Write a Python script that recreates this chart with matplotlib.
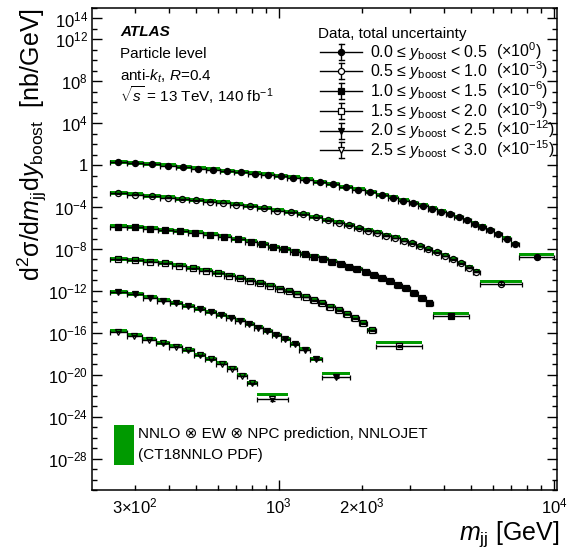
import numpy as np
import matplotlib
matplotlib.use("Agg")
import matplotlib.pyplot as plt
from matplotlib.lines import Line2D
from matplotlib.patches import Rectangle
from matplotlib.ticker import FixedLocator, FixedFormatter, LogLocator, NullFormatter

plt.rcParams['font.family'] = ['Liberation Sans', 'DejaVu Sans']
plt.rcParams['mathtext.fontset'] = 'custom'
plt.rcParams['mathtext.rm'] = 'Liberation Sans'
plt.rcParams['mathtext.it'] = 'Liberation Sans:italic'
plt.rcParams['mathtext.bf'] = 'Liberation Sans:bold'

# ---- datos ----
# bordes de bin en m_jj [GeV] para cada rango de y_boost
edges0 = [244, 281, 323, 370, 423, 481, 544, 613, 690, 774, 865, 965, 1072, 1195, 1333, 1486,
          1660, 1850, 2051, 2262, 2487, 2720, 2962, 3215, 3476, 3749, 4042, 4347, 4656, 4978,
          5315, 5673, 6067, 6486, 6966, 7464, 10000]
edges1 = [244, 281, 323, 371, 421, 474, 532, 594, 663, 743, 833, 936, 1047, 1165, 1293, 1436,
          1581, 1725, 1876, 2032, 2197, 2371, 2556, 2752, 2950, 3162, 3384, 3618, 3879, 4152,
          4439, 4742, 5058, 5382, 7618]
edges2 = [244, 281, 321, 364, 412, 467, 530, 600, 672, 752, 833, 912, 1000, 1096, 1194, 1293,
          1397, 1507, 1623, 1741, 1866, 2000, 2145, 2301, 2462, 2629, 2808, 3008, 3215, 3424,
          3631, 4920]
edges3 = [244, 281, 321, 364, 411, 462, 515, 572, 632, 694, 757, 821, 892, 969, 1049, 1128,
          1210, 1296, 1388, 1488, 1597, 1708, 1826, 1957, 2098, 2259, 3303]
edges4 = [244, 281, 321, 361, 402, 446, 492, 542, 594, 643, 697, 754, 813, 876, 944, 1017,
          1098, 1190, 1297, 1442, 1813]
edges5 = [244, 281, 318, 358, 401, 445, 492, 542, 594, 648, 705, 765, 834, 1081]

# d2sigma/dm dy [nb/GeV] sin escalar
xsec0 = [1.81, 1.45, 1.17, 0.86, 0.64, 0.48, 0.36, 0.27, 0.20, 0.16, 0.12, 0.089, 0.061, 0.039,
         0.024, 0.0144, 8.0e-3, 4.4e-3, 2.5e-3, 1.37e-3, 7.6e-4, 3.9e-4, 2.2e-4, 1.31e-4,
         6.8e-5, 3.5e-5, 2.0e-5, 1.02e-5, 5.3e-6, 2.5e-6, 1.3e-6, 5.9e-7, 2.6e-7, 1.0e-7,
         2.9e-8, 1.7e-9]
xsec1 = [2.0, 1.53, 1.10, 0.79, 0.57, 0.44, 0.34, 0.25, 0.17, 0.117, 0.074, 0.045, 0.031, 0.020,
         0.011, 5.3e-3, 3.1e-3, 1.8e-3, 9.3e-4, 5.6e-4, 3.4e-4, 1.9e-4, 1.13e-4, 5.8e-5, 3.4e-5,
         1.9e-5, 9.7e-6, 4.7e-6, 2.2e-6, 1.0e-6, 4.3e-7, 1.7e-7, 6.6e-8, 4.9e-9]
xsec2 = [1.36, 1.16, 0.84, 0.63, 0.50, 0.34, 0.22, 0.144, 0.087, 0.050, 0.029, 0.015, 9.7e-3,
         5.6e-3, 3.2e-3, 1.8e-3, 1.03e-3, 6.2e-4, 3.7e-4, 2.1e-4, 1.12e-4, 6.4e-5, 3.2e-5,
         1.58e-5, 8.5e-6, 3.8e-6, 1.83e-6, 6.1e-7, 1.95e-7, 7.1e-8, 4.2e-9]
xsec3 = [1.07, 0.86, 0.62, 0.43, 0.26, 0.149, 0.086, 0.050, 0.029, 0.0165, 9.3e-3, 5.3e-3,
         3.0e-3, 1.68e-3, 9.5e-4, 5.2e-4, 2.7e-4, 1.31e-4, 6.4e-5, 3.0e-5, 1.46e-5, 6.1e-6,
         2.35e-6, 7.9e-7, 1.8e-7, 5.7e-9]
xsec4 = [0.71, 0.46, 0.218, 0.113, 0.064, 0.035, 0.017, 8.8e-3, 4.9e-3, 2.7e-3, 1.39e-3, 6.7e-4,
         3.0e-4, 1.45e-4, 6.0e-5, 2.5e-5, 8.3e-6, 2.4e-6, 2.9e-7, 6.3e-9]
xsec5 = [0.124, 0.052, 0.023, 9.7e-3, 4.6e-3, 2.1e-3, 7.4e-4, 2.9e-4, 1.07e-4, 3.6e-5, 7.7e-6,
         1.48e-6, 4.4e-8]

edges = [edges0, edges1, edges2, edges3, edges4, edges5]
xsecs = [xsec0, xsec1, xsec2, xsec3, xsec4, xsec5]
exponentes = [0, -3, -6, -9, -12, -15]
ybins = [("0.0", "0.5"), ("0.5", "1.0"), ("1.0", "1.5"), ("1.5", "2.0"), ("2.0", "2.5"), ("2.5", "3.0")]

# incertidumbre relativa de datos y banda de prediccion (teoria/datos)
unc_rel = 0.08
unc_rel_ancho = 0.3
banda_lo, banda_hi = 0.72, 1.75
banda_ancho_lo = [1.25, 1.05, 1.2, 1.4, 1.5, 2.1]
banda_ancho_hi = [2.6, 2.1, 2.5, 2.8, 3.0, 4.4]

marcadores = ['o', 'o', 's', 's', 'v', 'v']
llenos = [True, False, True, False, True, False]
verde = '#009a00'

W, H = 572, 553
def fx(px):
    return px / W
def fy(py):
    return 1 - py / H

fig = plt.figure(figsize=(W / 100, H / 100), dpi=100)
ax = fig.add_axes([fx(92), fy(490), fx(557) - fx(92), fy(8) - fy(490)])
ax.set_xscale('log')
ax.set_yscale('log')

for k in range(6):
    e = np.array(edges[k], dtype=float)
    v = np.array(xsecs[k]) * 10.0 ** exponentes[k]
    lo, hi = e[:-1], e[1:]
    c = np.sqrt(lo * hi)
    flo = np.full(len(v), banda_lo)
    fhi = np.full(len(v), banda_hi)
    flo[-1] = banda_ancho_lo[k]
    fhi[-1] = banda_ancho_hi[k]
    ax.stairs(v * fhi, e, baseline=v * flo, fill=True, color=verde, lw=0, zorder=2)
    err = v * unc_rel
    err[-1] = v[-1] * unc_rel_ancho
    ax.errorbar(c, v, xerr=[c - lo, hi - c], yerr=err, fmt=marcadores[k], ms=4.4,
                mfc='k' if llenos[k] else 'none', mec='k', mew=0.9, ecolor='k',
                elinewidth=1.0, capsize=1.8, capthick=1.0, zorder=3)

ax.set_xlim(210, 10250)
ax.set_ylim(1e-31, 1e15)

# ticks estilo ROOT
ymaj = [10.0 ** p for p in range(-28, 13, 4)] + [1e14]
ylab = ['1' if p == 0 else r'$10^{%d}$' % p for p in range(-28, 13, 4)] + [r'$10^{14}$']
ax.yaxis.set_major_locator(FixedLocator(ymaj))
ax.yaxis.set_major_formatter(FixedFormatter(ylab))
ax.yaxis.set_minor_locator(LogLocator(base=10, subs=(1.0,), numticks=100))
ax.yaxis.set_minor_formatter(NullFormatter())

ax.xaxis.set_major_locator(FixedLocator([1e3, 1e4]))
ax.xaxis.set_major_formatter(FixedFormatter([r'$10^{3}$', r'$10^{4}$']))
xmin_t = [300, 400, 500, 600, 700, 800, 900, 2000, 3000, 4000, 5000, 6000, 7000, 8000, 9000]
xmin_l = [r'3$\times$$10^{2}$'] + [''] * 6 + [r'2$\times$$10^{3}$'] + [''] * 7
ax.xaxis.set_minor_locator(FixedLocator(xmin_t))
ax.xaxis.set_minor_formatter(FixedFormatter(xmin_l))

ax.tick_params(which='both', direction='in', top=True, right=True, width=1.0, labelsize=12)
ax.tick_params(which='major', length=7)
ax.tick_params(which='minor', length=3.8)
ax.tick_params(axis='x', which='both', pad=5)
ax.tick_params(axis='y', which='both', pad=3)
for s in ax.spines.values():
    s.set_linewidth(1.1)

ax.set_ylabel(r'd$^{2}$σ/d$m_{\mathrm{jj}}$d$y_{\mathrm{boost}}$  [nb/GeV]', fontsize=18, loc='top')
ax.yaxis.set_label_coords(-0.093, 1.0)
ax.set_xlabel(r'$m_{\mathrm{jj}}$ [GeV]', fontsize=18, loc='right')
ax.xaxis.set_label_coords(1.006, -0.06)

# textos ATLAS
fig.text(fx(120), fy(36), 'ATLAS', fontsize=11, fontweight='bold', fontstyle='italic')
fig.text(fx(120), fy(58), 'Particle level', fontsize=11)
fig.text(fx(120), fy(81), r'anti-$k_{t}$, $R$=0.4', fontsize=11)
fig.text(fx(120), fy(102), r'$\sqrt{s}$ = 13 TeV, 140 fb$^{-1}$', fontsize=11)

# leyenda de datos
fig.text(fx(318), fy(38), 'Data, total uncertainty', fontsize=11)
for i in range(6):
    yy = 51.7 + 19.7 * i
    fig.add_artist(Line2D([fx(320), fx(362)], [fy(yy), fy(yy)], color='k', lw=1.0))
    fig.add_artist(Line2D([fx(341), fx(341)], [fy(yy - 8), fy(yy + 8)], color='k', lw=1.0))
    for yc in (yy - 8, yy + 8):
        fig.add_artist(Line2D([fx(338.5), fx(343.5)], [fy(yc), fy(yc)], color='k', lw=1.0))
    fig.add_artist(Line2D([fx(341)], [fy(yy)], marker=marcadores[i], ms=4.4, mew=0.9,
                          mfc='k' if llenos[i] else 'white', mec='k', lw=0))
    a, b = ybins[i]
    fig.text(fx(370), fy(yy + 5), a + r' ≤ $y_{\mathrm{boost}}$ < ' + b, fontsize=11.5)
    fig.text(fx(496), fy(yy + 5), r'(×10$^{%d}$)' % exponentes[i], fontsize=11.5)

# leyenda de la prediccion
fig.add_artist(Rectangle((fx(114), fy(465)), fx(134) - fx(114), fy(425) - fy(465),
                         color=verde, lw=0))
fig.text(fx(138), fy(438), 'NNLO ⊗ EW ⊗ NPC prediction, NNLOJET', fontsize=11)
fig.text(fx(138), fy(458.5), '(CT18NNLO PDF)', fontsize=11)

fig.savefig('out.png', dpi=100, facecolor='white')
